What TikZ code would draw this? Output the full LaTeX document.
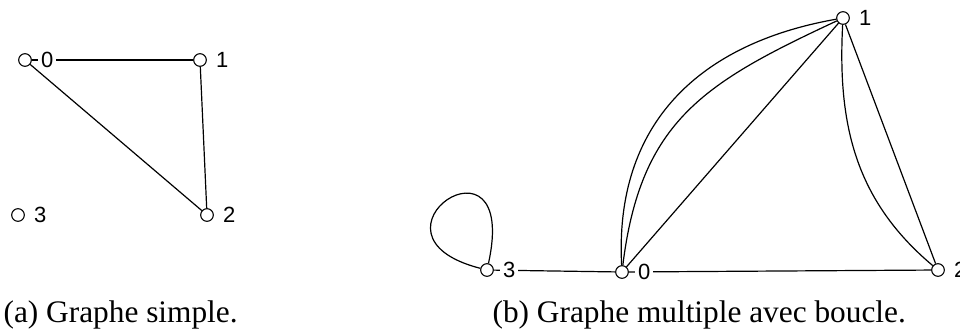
\documentclass[tikz,border=0pt]{standalone}
\usepackage{fontspec}
\setmainfont{Liberation Serif}
\newfontfamily\numfont{Liberation Sans}
\usetikzlibrary{positioning}

\tikzset{
  vertex/.style={circle, draw, line width=0.8pt, inner sep=0pt, minimum size=9.5pt},
  num/.style={font=\numfont\fontsize{16.5}{16.5}\selectfont, fill=white, inner sep=2pt},
  caption/.style={font=\fontsize{23.5}{24}\selectfont, inner sep=0pt, anchor=base west}
}

\begin{document}
\begin{tikzpicture}[x=0.75pt,y=0.75pt,line width=0.9pt]
\useasboundingbox (0,0) rectangle (960,-330);

% graphe simple
\node[vertex](A0) at (25,-60){};
\node[vertex](A1) at (200,-60){};
\node[vertex](A2) at (207,-215){};
\node[vertex](A3) at (18,-215){};

\draw(A0)--(A1);
\draw(A0)--(A2);
\draw(A1)--(A2);

\node[num, right=4.5pt of A0](LA0){0};
\node[num, right=4.5pt of A1](LA1){1};
\node[num, right=4.5pt of A2](LA2){2};
\node[num, right=4.5pt of A3](LA3){3};

% graphe multiple avec boucle
\node[vertex](B0) at (622,-272){};
\node[vertex](B1) at (843,-18){};
\node[vertex](B2) at (938,-270){};
\node[vertex](B3) at (487,-270){};

\draw(B3)--(B0);
\draw(B0)--(B2);
\draw(B0)--(B1);
\draw(B0) to[out=93, in=190, looseness=1.1] (B1);
\draw(B0) to[out=83, in=205, looseness=1.15] (B1);
\draw(B1)--(B2);
\draw(B1) to[out=-93, in=140, looseness=1.0] (B2);
\draw(B3) .. controls +(33,150) and +(-137,35) .. (B3);

\node[num, right=4.5pt of B0](LB0){0};
\node[num, right=4.5pt of B1](LB1){1};
\node[num, right=4.5pt of B2](LB2){2};
\node[num, right=4.5pt of B3](LB3){3};

\node[caption](CA) at (3,-322){(a) Graphe simple.};
\node[caption](CB) at (492,-322){(b) Graphe multiple avec boucle.};

\end{tikzpicture}
\end{document}
